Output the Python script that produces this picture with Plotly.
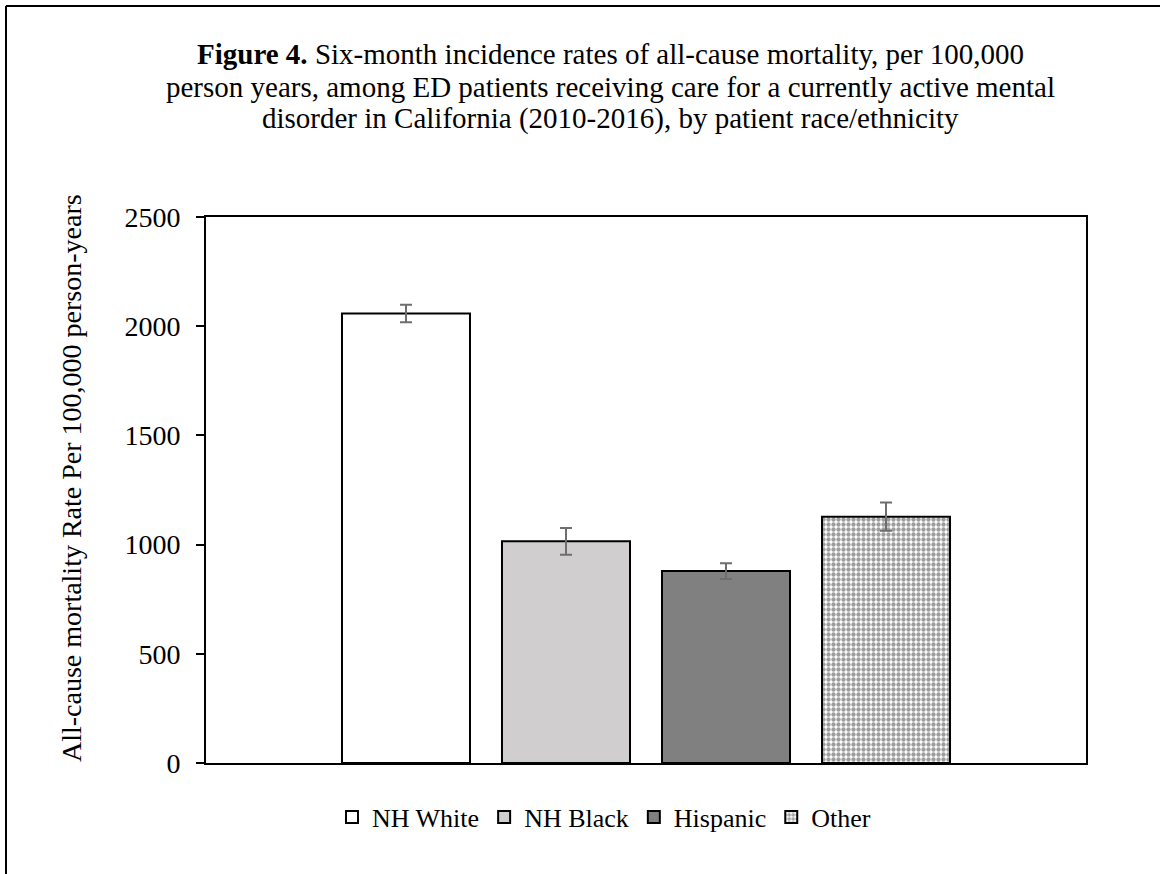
import plotly.graph_objects as go

categories = ["NH White", "NH Black", "Hispanic", "Other"]
rates = [2058, 1015, 879, 1128]
errors = [40, 61, 36, 65]
y_ticks = [0, 500, 1000, 1500, 2000, 2500]

fills = ["#ffffff", "#d0cece", "#808080", "#ffffff"]
FONT = "Liberation Serif, Times New Roman, serif"

W, H = 1160, 874
L, R, T, B = 206, 1086, 217, 763


def px(x):
    return (x - L) / (R - L)


def py(y):
    return (B - y) / (B - T)


fig = go.Figure()
for i, (cat, val, err) in enumerate(zip(categories, rates, errors)):
    marker = dict(color=fills[i], line=dict(color="#000000", width=2))
    if cat == "Other":
        marker["pattern"] = dict(shape=".", size=5, solidity=0.6,
                                 fgcolor="#3c3c3c", bgcolor="#ffffff",
                                 fillmode="overlay")
    fig.add_trace(go.Bar(
        x=[0], y=[val], name=cat, marker=marker,
        error_y=dict(type="data", array=[err], visible=True,
                     color="#6e6e6e", thickness=2, width=6),
    ))

fig.update_layout(
    width=W, height=H,
    margin=dict(l=L, r=W - R, t=T, b=H - B, pad=0),
    paper_bgcolor="white", plot_bgcolor="white",
    barmode="group", bargap=0.2727, bargroupgap=0.2,
    font=dict(family=FONT, color="#000000", size=26),
    showlegend=True,
    legend=dict(orientation="h", x=px(604), y=py(817), xanchor="center",
                yanchor="middle", font=dict(size=26, family=FONT),
                itemwidth=30, traceorder="normal"),
    xaxis=dict(range=[-0.5, 0.5], showticklabels=False, ticks="",
               showgrid=False, zeroline=False, showline=True,
               linecolor="#000000", linewidth=2, mirror=True),
    yaxis=dict(range=[0, 2500], tickvals=y_ticks, ticks="outside",
               ticklen=8, tickwidth=2, tickcolor="#000000",
               ticklabelstandoff=10,
               showgrid=False, zeroline=False, showline=True,
               linecolor="#000000", linewidth=2, mirror=True,
               tickfont=dict(size=28, family=FONT)),
)

title_lines = [
    "<b>Figure 4.</b> Six-month incidence rates of all-cause mortality, per 100,000",
    "person years, among ED patients receiving care for a currently active mental",
    "disorder in California (2010-2016), by patient race/ethnicity",
]
for line, ypix in zip(title_lines, [54, 87, 119]):
    fig.add_annotation(text=line, x=px(610), y=py(ypix), xref="paper",
                       yref="paper", xanchor="center", yanchor="middle",
                       showarrow=False, font=dict(size=29, family=FONT))

fig.add_annotation(text="All-cause mortality Rate Per 100,000 person-years",
                   x=px(71), y=py(478), xref="paper", yref="paper",
                   xanchor="center", yanchor="middle", textangle=-90,
                   showarrow=False, font=dict(size=28, family=FONT))

# figure frame (left and top edges visible)
fig.add_shape(type="line", xref="paper", yref="paper",
              x0=px(6), x1=px(6), y0=py(6), y1=py(880),
              line=dict(color="#000000", width=2))
fig.add_shape(type="line", xref="paper", yref="paper",
              x0=px(6), x1=px(1170), y0=py(6), y1=py(6),
              line=dict(color="#000000", width=2))

fig.write_html("out.html")
